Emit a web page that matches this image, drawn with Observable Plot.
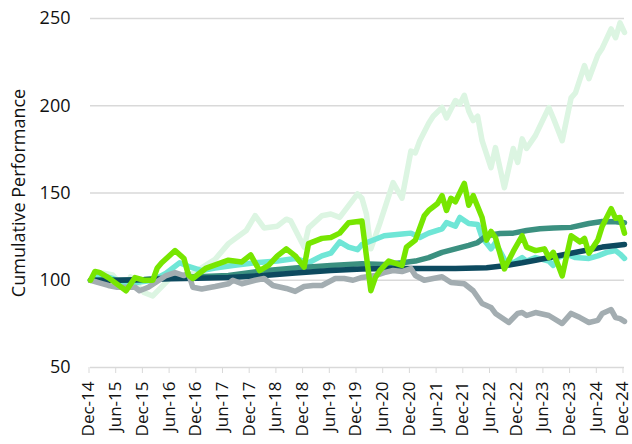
<!DOCTYPE html>
<html><head><meta charset="utf-8">
<script src="https://cdn.jsdelivr.net/npm/d3@7"></script>
<script src="https://cdn.jsdelivr.net/npm/@observablehq/plot@0.6"></script>
<style>body{margin:0;background:#fff}</style>
</head><body><div id="chart"></div>
<script>
const xTickLabels = ["Dec-14","Jun-15","Dec-15","Jun-16","Dec-16","Jun-17","Dec-17","Jun-18","Dec-18","Jun-19","Dec-19","Jun-20","Dec-20","Jun-21","Dec-21","Jun-22","Dec-22","Jun-23","Dec-23","Jun-24","Dec-24"];
const xTickMonths = xTickLabels.map((_, i) => i * 6);
const yTicks = [50, 100, 150, 200, 250];
const yLabel = "Cumulative Performance";

// [months since Dec-14, cumulative value]
const mint = [[0,100],[1,104],[3,104],[5,103],[8,94],[9,102],[12,93],[14,91],[18,101.5],[23,104],[28,112],[31,121],[35,128.5],[37,137],[39,130],[42,131],[44,135],[45,134],[47,124],[48,119],[49,130],[52,137],[54,138],[56,136],[60,149.5],[61,147],[62,138],[63,118],[65,132.5],[68,156],[70,147],[72,174],[73,173],[74,180],[76,190],[77,194],[79,199],[80,193],[82,203],[83,201],[84,206],[85,197],[86,191.5],[87,194],[88,180],[90,164.5],[91,176],[93,153],[95,175.5],[96,167.5],[97,181],[98,175.5],[100,183],[103,199],[104,193],[106,180],[108,204.5],[109,207.5],[111,223],[112,215.5],[114,229],[115,233],[117,244],[118,239],[119,247.5],[120,242]];
const turquoise = [[0,100],[2,103],[5,101],[8,97.5],[11,99],[14,100],[17,104],[20,110],[22,108],[25,105.5],[28,107],[32,108.5],[37,110],[42,111],[46,112.5],[49,110],[52,114],[54,115.5],[56,122],[58,119],[60,117.5],[61,120.5],[64,123.5],[66,125.5],[70,126.5],[72,127],[74,124.5],[76,127],[79,129.5],[80,133],[82,131],[83,136],[85,132.5],[87,132],[88,124.5],[90,118],[91,121.5],[93,112],[95,110],[97,113],[98,111],[100,113],[103,111],[104,108.5],[105,113],[107,115],[109,113],[112,112.5],[114,114],[116,116],[118,117],[119,115],[120,112.5]];
const teal = [[0,100],[6,100],[12,100.5],[18,101.5],[24,102],[31,102.7],[39,105.5],[46,107],[54,108.5],[61,109.5],[66,109],[70,110],[73,111],[76,113],[79,116],[82,118],[85,120],[87,121.6],[89,125.5],[92,126.8],[95,127],[98,128.5],[101,129.5],[104,130],[108,130.3],[112,132.5],[115,133.7],[118,133.5],[120,133]];
const navy = [[0,100],[6,100],[12,100.3],[18,100.8],[24,101.2],[31,101.6],[39,102.7],[46,104.2],[54,105.6],[61,106.5],[67,106.7],[74,106.7],[82,106.8],[89,107.2],[93,108.3],[97,110],[100,111.5],[104,113.5],[108,115.5],[112,117.5],[115,119],[120,120.5]];
const gray = [[0,100],[2,98.5],[4,97],[6,96],[10,96],[11,94],[13,96],[16,101],[17,102.7],[19,104.4],[21,102.7],[22,104],[23,96],[25,95],[28,96.4],[31,98],[32,100],[34,98],[37,100],[39,101],[41,97],[44,95.3],[46,93.6],[48,96.4],[50,97],[52,97],[55,101],[57,101],[59,100],[61,101.6],[64,102.7],[66,104.4],[68,105.6],[70,105],[72,106.7],[73,102.7],[75,100],[77,101],[79,102],[81,98.7],[84,98],[86,94],[88,86.7],[90,84.4],[91,81],[94,75.8],[96,81],[97,81.5],[98,79.8],[100,81.5],[103,79.8],[106,75.2],[108,81],[110,78.6],[112,75.8],[114,77],[115,81],[117,83.2],[118,78.6],[119,78],[120,76.4]];
const lime = [[0,100],[1,105],[2,104.5],[4,101.5],[8,94],[10,101.5],[12,100],[14,100],[15,107],[16,110],[19,117],[21,112.5],[22,103],[23,101],[26,107],[31,111.5],[34,110.5],[36,114.5],[38,105.5],[40,108.5],[42,114],[44,118],[46,114],[48,107.5],[49,121],[52,124],[54,124.5],[56,127],[58,133],[61,134],[63,94],[64,101.5],[65,105.5],[67,111],[70,108.5],[71,119],[73,123],[75,137],[76,140],[78,144],[79,148.5],[80,140],[81,147],[82,145],[84,155.5],[85,143],[86,148.5],[88,136],[89,123],[90,128],[91,124.5],[93,106.5],[95,116.5],[97,125.5],[98,119],[100,117],[102,118],[103,113],[104,116],[106,102.5],[108,125.5],[110,122],[111,124],[112,115.5],[114,123],[115,131],[117,141],[118,135.5],[119,136],[120,127]];

const seriesList = [mint, turquoise, teal, navy, gray, lime];
const seriesColors = ["#dcf5e2", "#6fe6d6", "#3b9080", "#0d4a5f", "#a3adb1", "#77e600"];

const chart = Plot.plot({
  width: 632, height: 444,
  marginLeft: 90, marginRight: 8, marginTop: 18, marginBottom: 77,
  style: {fontFamily: "'Open Sans'", fontSize: "18px", color: "#111", background: "#fff", overflow: "visible"},
  x: {domain: [0, 120]},
  y: {domain: [50, 250]},
  marks: [
    Plot.gridY(yTicks, {stroke: "#d9d9d9", strokeOpacity: 1, strokeWidth: 1.5}),
    Plot.axisY(yTicks, {tickSize: 0, tickPadding: 20, label: yLabel, labelAnchor: "center", labelArrow: "none", labelOffset: 78}),
    Plot.axisX(xTickMonths, {tickSize: 6, stroke: "#d9d9d9", strokeOpacity: 1, tickRotate: -90, tickPadding: 8, fontSize: 17, dx: -1.5, tickFormat: d => xTickLabels[xTickMonths.indexOf(d)], label: null}),
    ...seriesList.map((s, i) => Plot.line(s, {x: d => d[0], y: d => d[1], stroke: seriesColors[i], strokeWidth: 5.5, strokeLinejoin: "round", strokeLinecap: "round"}))
  ]
});
document.getElementById("chart").appendChild(chart);
</script>
</body></html>
